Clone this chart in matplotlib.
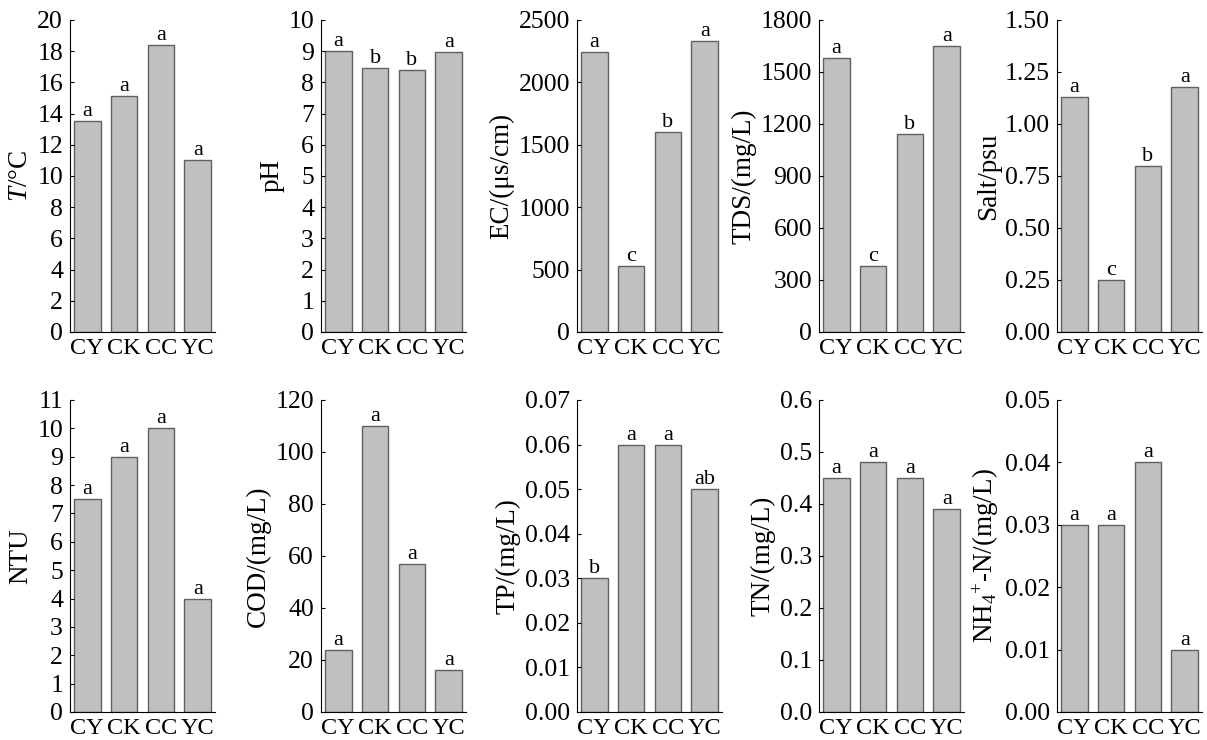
import numpy as np
import matplotlib.pyplot as plt

plt.rcParams['font.family'] = ['Liberation Serif', 'DejaVu Serif']
plt.rcParams['mathtext.fontset'] = 'custom'
plt.rcParams['mathtext.rm'] = 'Liberation Serif'
plt.rcParams['mathtext.it'] = 'Liberation Serif:italic'

sites = ['CY', 'CK', 'CC', 'YC']

t_vals = [13.5, 15.1, 18.4, 11.0]
t_sig = ['a', 'a', 'a', 'a']
ph_vals = [9.0, 8.45, 8.4, 8.98]
ph_sig = ['a', 'b', 'b', 'a']
ec_vals = [2240, 530, 1600, 2330]
ec_sig = ['a', 'c', 'b', 'a']
tds_vals = [1580, 380, 1140, 1650]
tds_sig = ['a', 'c', 'b', 'a']
salt_vals = [1.13, 0.25, 0.80, 1.18]
salt_sig = ['a', 'c', 'b', 'a']
ntu_vals = [7.5, 9.0, 10.0, 4.0]
ntu_sig = ['a', 'a', 'a', 'a']
cod_vals = [24, 110, 57, 16]
cod_sig = ['a', 'a', 'a', 'a']
tp_vals = [0.03, 0.06, 0.06, 0.05]
tp_sig = ['b', 'a', 'a', 'ab']
tn_vals = [0.45, 0.48, 0.45, 0.39]
tn_sig = ['a', 'a', 'a', 'a']
nh4_vals = [0.03, 0.03, 0.04, 0.01]
nh4_sig = ['a', 'a', 'a', 'a']

panels = [
    (t_vals, t_sig, r'$\it{T}$/°C', np.arange(0, 21, 2), '%d'),
    (ph_vals, ph_sig, 'pH', np.arange(0, 11, 1), '%d'),
    (ec_vals, ec_sig, 'EC/(μs/cm)', np.arange(0, 2501, 500), '%d'),
    (tds_vals, tds_sig, 'TDS/(mg/L)', np.arange(0, 1801, 300), '%d'),
    (salt_vals, salt_sig, 'Salt/psu', np.arange(0, 1.51, 0.25), '%.2f'),
    (ntu_vals, ntu_sig, 'NTU', np.arange(0, 12, 1), '%d'),
    (cod_vals, cod_sig, 'COD/(mg/L)', np.arange(0, 121, 20), '%d'),
    (tp_vals, tp_sig, 'TP/(mg/L)', np.arange(0, 0.0701, 0.01), '%.2f'),
    (tn_vals, tn_sig, 'TN/(mg/L)', np.arange(0, 0.601, 0.1), '%.1f'),
    (nh4_vals, nh4_sig, r'NH$_4$$^{+}$-N/(mg/L)', np.arange(0, 0.0501, 0.01), '%.2f'),
]

W, H = 1207, 740
fig = plt.figure(figsize=(W / 100, H / 100), dpi=100)

lefts = [70, 321, 577, 819, 1057]
bottoms = [408, 28]
aw, ah = 145, 312

x = np.arange(len(sites))
for i, (vals, sig, ylab, ticks, fmt) in enumerate(panels):
    row, col = divmod(i, 5)
    ax = fig.add_axes([lefts[col] / W, bottoms[row] / H, aw / W, ah / H])
    ax.bar(x, vals, width=0.72, color='#c0c0c0', edgecolor='#606060', linewidth=1)
    ax.set_xlim(-0.47, 3.47)
    ax.set_ylim(ticks[0], ticks[-1])
    ax.set_yticks(ticks)
    ax.set_yticklabels([fmt % t for t in ticks])
    ax.set_xticks(x)
    ax.set_xticklabels(sites)
    ax.tick_params(axis='y', direction='in', length=3, labelsize=18.5, pad=5)
    ax.tick_params(axis='x', length=0, labelsize=17.5, pad=4)
    ax.spines['top'].set_visible(False)
    ax.spines['right'].set_visible(False)
    ax.set_ylabel(ylab, fontsize=19.5, labelpad=3)
    for xi, v, s in zip(x, vals, sig):
        ax.annotate(s, (xi, v), xytext=(0, 0), textcoords='offset points',
                    ha='center', va='bottom', fontsize=16)

fig.savefig('out.png', dpi=100)
